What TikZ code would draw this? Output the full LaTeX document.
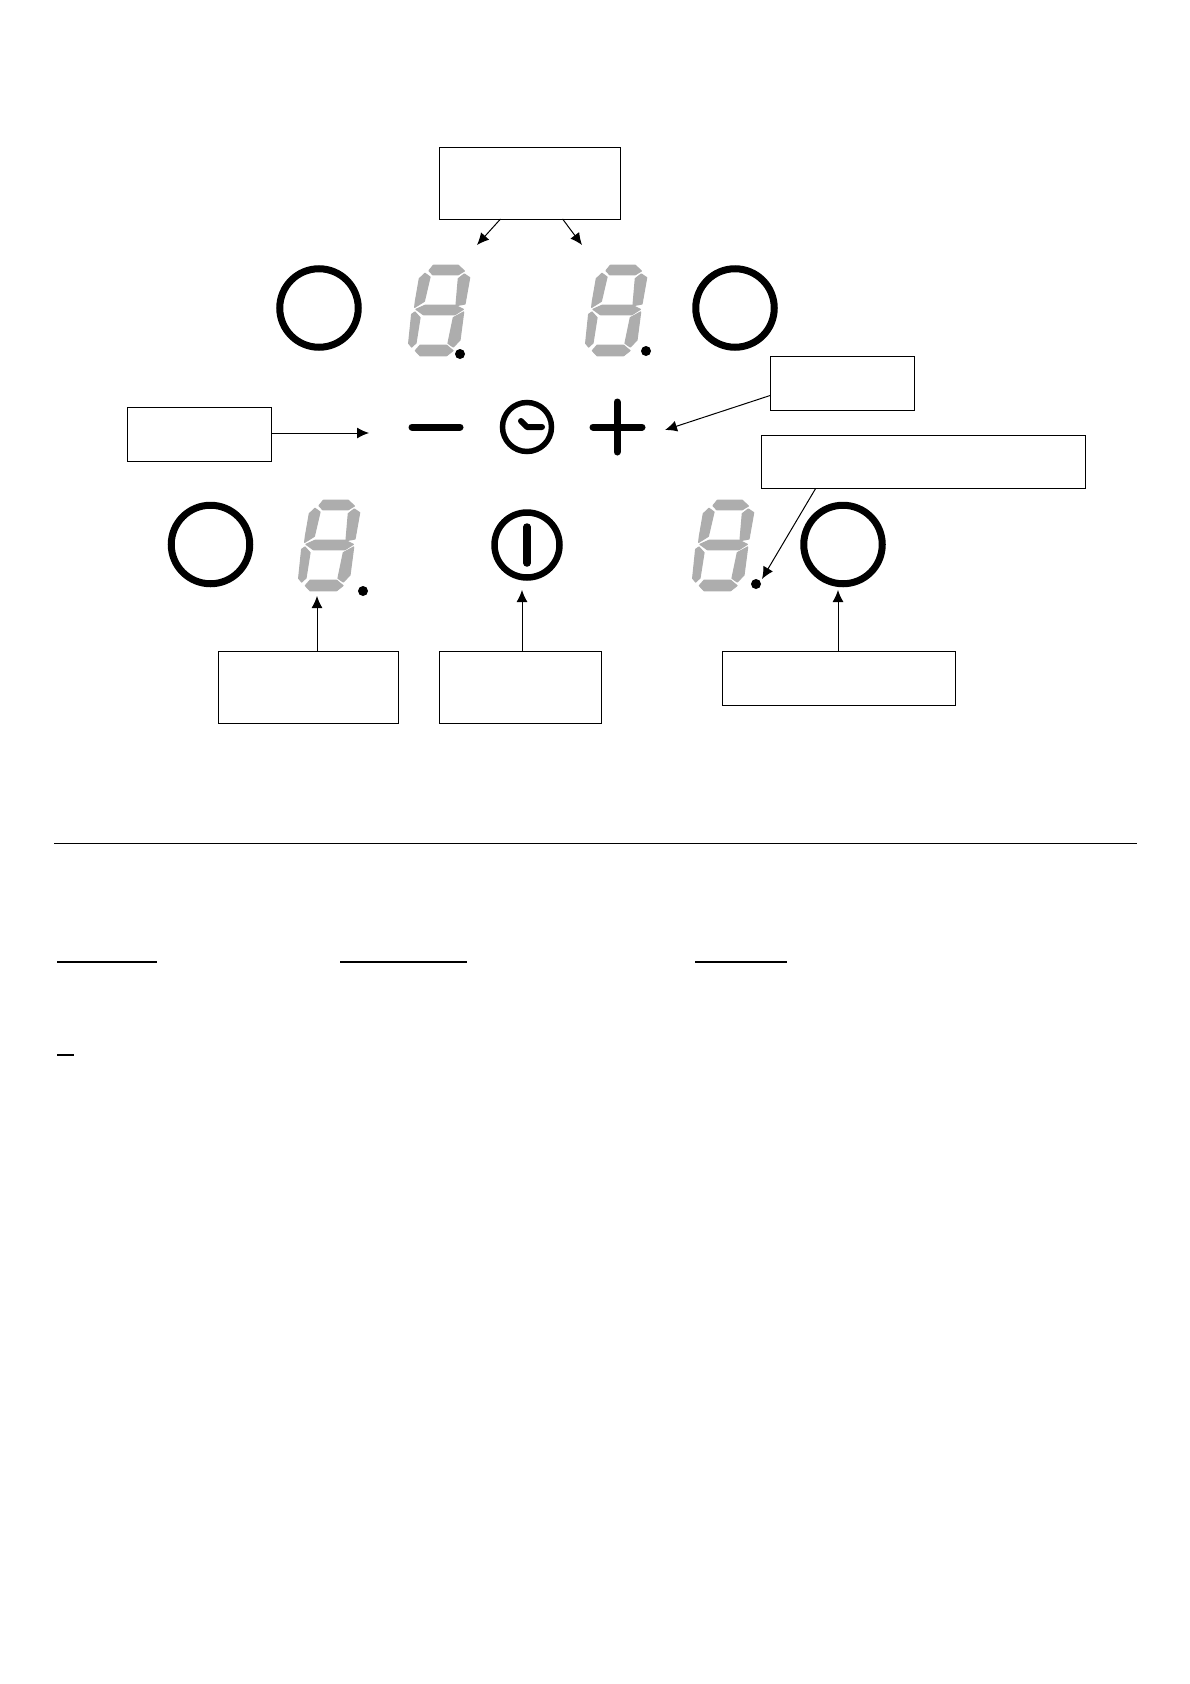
\documentclass[tikz,border=0pt]{standalone}
\usetikzlibrary{arrows.meta,calc}
\definecolor{seggrey}{HTML}{ADADAD}
\tikzset{
  x=1pt,y=-1pt,
  labelbox/.style={draw=black,line width=1pt,fill=white,anchor=north west,inner sep=0pt,outer sep=0pt},
  ringbtn/.style={circle,draw=black,line width=7pt,inner sep=0pt,minimum size=78.5pt},
  pointer/.style={draw=black,line width=1pt,-{Latex[length=12pt,width=11pt]},shorten >=0pt},
  stroke/.style={draw=black,line width=#1,line cap=round,line join=round},
  ledot/.style={circle,fill=black,inner sep=0pt,minimum size=10pt},
  segment/.style={fill=seggrey,draw=seggrey,line width=1.2pt,line join=round},
  rulestroke/.style={draw=black,line width=2.2pt},
  sevenseg/.pic={
    \begin{scope}[x=0.3333pt,y=-0.3333pt]
    \path[segment] (117,122)--(130,106)--(205,106)--(223,123)--(205,134)--(128,134)--cycle;
    \path[segment] (88,146)--(105,130)--(120,141)--(103,214)--(74,232)--(76,215)--cycle;
    \path[segment] (223,132)--(239,143)--(225,222)--(198,227)--(205,146)--cycle;
    \path[segment] (78,238)--(105,226)--(195,226)--(220,238)--(195,254)--(100,254)--cycle;
    \path[segment] (65,253)--(75,246)--(90,263)--(78,339)--(65,351)--(56,340)--cycle;
    \path[segment] (221,246)--(210,330)--(190,351)--(174,340)--(190,263)--cycle;
    \path[segment] (76,362)--(90,346)--(170,346)--(189,362)--(170,377)--(90,377)--cycle;
    \end{scope}
  }
}
\begin{document}
\begin{tikzpicture}
\useasboundingbox (0,0) rectangle (1190,1684);
\fill[white] (0,0) rectangle (1190,1684);

% label boxes
\node[labelbox,minimum width=181pt,minimum height=72pt] (boxtop) at (439.5,147) {};
\node[labelbox,minimum width=144pt,minimum height=54pt] (boxleft) at (127.5,407) {};
\node[labelbox,minimum width=144pt,minimum height=54pt] (boxright) at (770.5,356.5) {};
\node[labelbox,minimum width=324pt,minimum height=53pt] (boxlong) at (761.5,435.5) {};
\node[labelbox,minimum width=180pt,minimum height=72pt] (boxa) at (218.5,651) {};
\node[labelbox,minimum width=162pt,minimum height=72pt] (boxb) at (439.5,651) {};
\node[labelbox,minimum width=233pt,minimum height=54pt] (boxc) at (722.5,651) {};

% ring buttons
\node[ringbtn] (ring1) at (319,308) {};
\node[ringbtn] (ring2) at (735,308) {};
\node[ringbtn] (ring3) at (210.5,544.5) {};
\node[ringbtn] (ring4) at (843,544.5) {};

% seven-segment digits
\pic at (390,230) {sevenseg};
\pic at (567,230) {sevenseg};
\pic at (280,465) {sevenseg};
\pic at (674,465) {sevenseg};
\node[ledot] (dot1) at (460,354) {};
\node[ledot] (dot2) at (646,351) {};
\node[ledot] (dot3) at (363,591) {};
\node[ledot] (dot4) at (756,584) {};

% symbols
\draw[stroke=7pt] (412,427) -- (460,427);
\draw[stroke=7pt] (593,427) -- (642,427);
\draw[stroke=7pt] (617,402) -- (617,452);
\node[circle,draw=black,line width=5.5pt,inner sep=0pt,minimum size=49pt] (clock) at (527,427) {};
\draw[stroke=6pt] (521,421) -- (527,427) -- (542,427);
\node[circle,draw=black,line width=6.5pt,inner sep=0pt,minimum size=65pt] (power) at (527,545) {};
\draw[stroke=7.5pt] (527,527) -- (527,563);

% connector ends
\coordinate (t1) at (477,245);
\coordinate (t2) at (582,245);
\coordinate (t3) at (369,433);
\coordinate (t4) at (665,430);
\coordinate (t5) at (762,579);
\coordinate (t6) at (317,596);
\coordinate (t7) at (522,590);
\coordinate (t8) at (838,590);

\draw[pointer] ($(boxtop.south west)!0.337!(boxtop.south east)$) -- (t1);
\draw[pointer] ($(boxtop.south west)!0.68!(boxtop.south east)$) -- (t2);
\draw[pointer] (boxleft.east |- t3) -- (t3);
\draw[pointer] ($(boxright.north west)!0.72!(boxright.south west)$) -- (t4);
\draw[pointer] ($(boxlong.south west)!0.167!(boxlong.south east)$) -- (t5);
\draw[pointer] (boxa.north -| t6) -- (t6);
\draw[pointer] (boxb.north -| t7) -- (t7);
\draw[pointer] (boxc.north -| t8) -- (t8);

% rule and underlines
\draw[draw=black,line width=1pt] (54,843) -- (1137,843);
\draw[rulestroke] (57,962) -- (157,962);
\draw[rulestroke] (340,962) -- (467,962);
\draw[rulestroke] (695,962) -- (787,962);
\draw[rulestroke] (57,1055) -- (74,1055);
\end{tikzpicture}
\end{document}
